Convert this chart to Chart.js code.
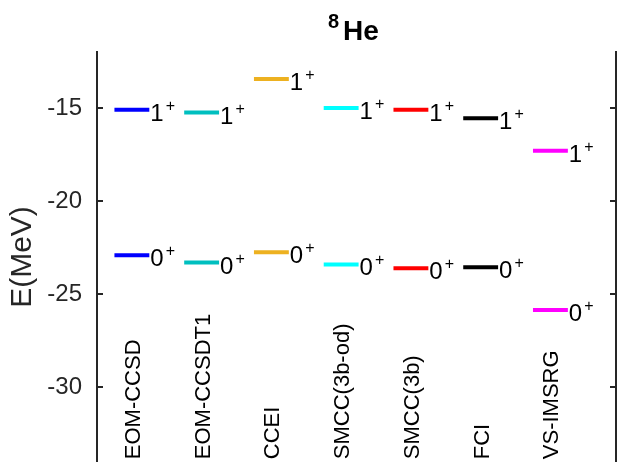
<!DOCTYPE html>
<html>
<head>
<meta charset="utf-8">
<script src="https://cdn.jsdelivr.net/npm/chart.js@4.4.0/dist/chart.umd.min.js"></script>
<style>
  html, body { margin: 0; padding: 0; background: #fff; overflow: hidden; }
  #wrap { width: 621px; height: 462px; position: relative; }
</style>
</head>
<body>
<div id="wrap"><canvas id="levels"></canvas></div>
<script>
const METHODS = ["EOM-CCSD", "EOM-CCSDT1", "CCEI", "SMCC(3b-od)", "SMCC(3b)", "FCI", "VS-IMSRG"]
const COLORS = [
  "#0000ff",  // blue
  "#00bfbf",  // teal
  "#edb120",  // orange
  "#00ffff",  // cyan
  "#ff0000",  // red
  "#000000",  // black
  "#ff00ff",  // magenta
]
const E_0PLUS = [-22.9, -23.3, -22.75, -23.4, -23.6, -23.55, -25.85]
const E_1PLUS = [-15.1, -15.25, -13.45, -15.0, -15.1, -15.55, -17.3]
const SPINS = ["0", "1"]
const Y_TICKS = [-30, -25, -20, -15]
const Y_MIN = -34, Y_MAX = -12
const X_MIN = 0.5, X_MAX = 7.94
const HALF = 0.25          // half width of a level bar, in x units
const NAME_Y = -33.85      // where the rotated method names start

const FONT = "'Liberation Sans', Arial, Helvetica, sans-serif"
const AXIS = "#262626"

// one dataset per method: two short bars split by a null gap
const datasets = METHODS.map((m, i) => {
  const c = i + 1
  return {
    label: m,
    data: [
      { x: c - HALF, y: E_0PLUS[i] }, { x: c + HALF, y: E_0PLUS[i] },
      { x: c, y: null },
      { x: c - HALF, y: E_1PLUS[i] }, { x: c + HALF, y: E_1PLUS[i] },
    ],
    borderColor: COLORS[i],
    backgroundColor: COLORS[i],
    borderWidth: 4,
    borderCapStyle: "butt",
    pointRadius: 0,
    spanGaps: false,
    fill: false,
  }
})

const fixTicks = (s) => { s.ticks = Y_TICKS.map(v => ({ value: v })) }
const noPad = (w) => (s) => { s.width = w; s.paddingTop = 0; s.paddingBottom = 0 }

const annotate = {
  id: "annotate",
  afterDraw(chart) {
    const { ctx, chartArea: a, scales: { x, y } } = chart
    ctx.save()

    // inward tick marks on both vertical axes
    ctx.strokeStyle = AXIS
    ctx.lineWidth = 2
    Y_TICKS.forEach(v => {
      const py = Math.round(y.getPixelForValue(v))
      ctx.beginPath()
      ctx.moveTo(a.left, py); ctx.lineTo(a.left + 6, py)
      ctx.moveTo(a.right, py); ctx.lineTo(a.right - 6, py)
      ctx.stroke()
    })

    ctx.fillStyle = "#000"
    METHODS.forEach((m, i) => {
      // J^pi labels right of each bar
      const px = x.getPixelForValue(i + 1 + HALF) + 1
      ;[E_0PLUS[i], E_1PLUS[i]].forEach((e, k) => {
        const py = y.getPixelForValue(e)
        ctx.textAlign = "left"
        ctx.textBaseline = "alphabetic"
        ctx.font = `24px ${FONT}`
        ctx.fillText(SPINS[k], px, py + 11)
        const w = ctx.measureText(SPINS[k]).width
        ctx.font = `16px ${FONT}`
        ctx.fillText("+", px + w + 2, py + 1)
      })

      // method name, rotated, along the bottom
      const cx = x.getPixelForValue(i + 1)
      ctx.save()
      ctx.translate(cx + 8, y.getPixelForValue(NAME_Y))
      ctx.rotate(-Math.PI / 2)
      ctx.font = `22px ${FONT}`
      ctx.textAlign = "left"
      ctx.textBaseline = "alphabetic"
      ctx.fillText(m, 0, 0)
      ctx.restore()
    })

    // title: superscript 8, then He
    const mid = (a.left + a.right) / 2
    ctx.textAlign = "left"
    ctx.textBaseline = "alphabetic"
    ctx.font = `bold 28px ${FONT}`
    ctx.fillText("He", mid - 13.5, 40)
    ctx.font = `bold 20px ${FONT}`
    ctx.fillText("8", mid - 28.5, 28)

    ctx.restore()
  },
}

new Chart(document.getElementById("levels"), {
  type: "line",
  data: { datasets },
  plugins: [annotate],
  options: {
    responsive: true,
    maintainAspectRatio: false,
    animation: false,
    devicePixelRatio: 1,
    layout: { padding: { top: 52, left: 0, right: 0, bottom: 0 } },
    scales: {
      x: { type: "linear", min: X_MIN, max: X_MAX, display: false },
      y: {
        position: "left",
        min: Y_MIN, max: Y_MAX,
        afterBuildTicks: fixTicks,
        afterFit: noPad(97),
        grid: { drawOnChartArea: false, drawTicks: false },
        border: { display: true, color: AXIS, width: 2 },
        ticks: { color: AXIS, padding: 15, font: { size: 24, family: FONT } },
        title: {
          display: true, text: "E(MeV)", color: AXIS,
          font: { size: 30, family: FONT }, padding: { top: 5, bottom: 0 },
        },
      },
      y2: {
        position: "right",
        min: Y_MIN, max: Y_MAX,
        afterBuildTicks: fixTicks,
        afterFit: noPad(5),
        grid: { drawOnChartArea: false, drawTicks: false },
        border: { display: true, color: AXIS, width: 2 },
        ticks: { display: false },
      },
    },
    plugins: { legend: { display: false }, tooltip: { enabled: false } },
  },
})
</script>
</body>
</html>
